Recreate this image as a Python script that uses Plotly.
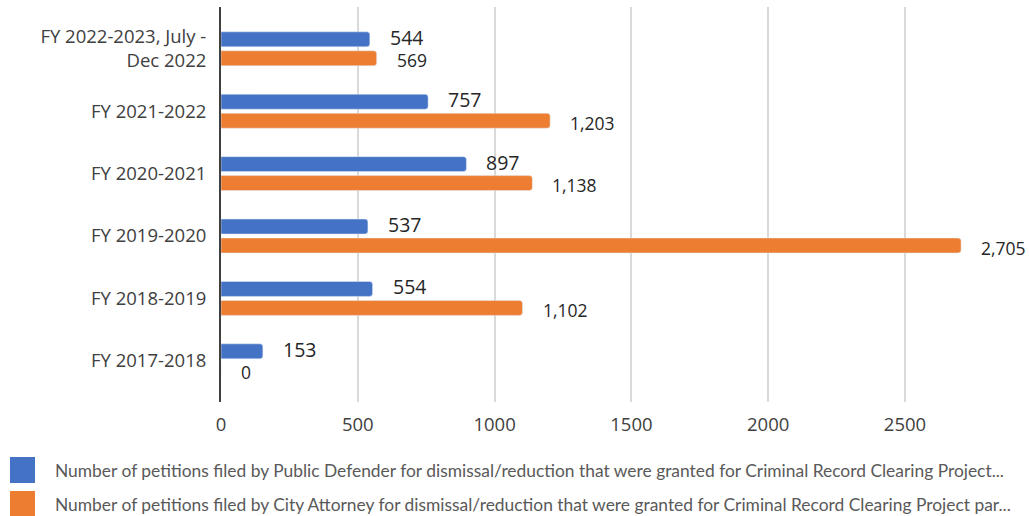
import plotly.graph_objects as go

# Fiscal-year categories, bottom to top on the y axis
categories = [
    "FY 2017-2018",
    "FY 2018-2019",
    "FY 2019-2020",
    "FY 2020-2021",
    "FY 2021-2022",
    "FY 2022-2023, July -<br>Dec 2022",
]
public_defender = [153, 554, 537, 897, 757, 544]
city_attorney = [0, 1102, 2705, 1138, 1203, 569]

series_names = [
    "Number of petitions filed by Public Defender for dismissal/reduction that were granted for Criminal Record Clearing Project...",
    "Number of petitions filed by City Attorney for dismissal/reduction that were granted for Criminal Record Clearing Project par...",
]
x_ticks = [0, 500, 1000, 1500, 2000, 2500]

BLUE = "#4472C4"
ORANGE = "#ED7D31"
TEXT = "#404040"
FONT = "Open Sans"

W, H = 1029, 516
L, R, T, B = 221, 0, 7, 114
plot_w = W - L - R
plot_h = H - T - B

fig = go.Figure()

bar_w = 0.24
fig.add_trace(go.Bar(
    y=categories, x=public_defender, orientation="h", name=series_names[0],
    marker=dict(color=BLUE, cornerradius=3), width=bar_w, offset=0.032,
    showlegend=False, hoverinfo="x",
))
fig.add_trace(go.Bar(
    y=categories, x=city_attorney, orientation="h", name=series_names[1],
    marker=dict(color=ORANGE, cornerradius=3), width=bar_w, offset=-0.272,
    showlegend=False, hoverinfo="x",
))

# Value labels next to each bar end
for cat, v in zip(categories, public_defender):
    fig.add_annotation(x=v, y=cat, text=f"{v:,}", showarrow=False,
                       xanchor="left", yanchor="middle", xshift=19, yshift=11.5,
                       height=21, borderpad=0,
                       font=dict(family=FONT, size=19.5, color="#262626"))
for cat, v in zip(categories, city_attorney):
    fig.add_annotation(x=v, y=cat, text=f"{v:,}", showarrow=False,
                       xanchor="left", yanchor="middle", xshift=19, yshift=-11,
                       height=19, borderpad=0,
                       font=dict(family=FONT, size=17.5, color="#262626"))

# Legend drawn as swatches + text below the plot
def px_x(px):
    return (px - L) / plot_w

def px_y(py):
    return (H - B - py) / plot_h

legend_rows = [(series_names[0], BLUE, 470), (series_names[1], ORANGE, 504)]
for name, color, cy in legend_rows:
    fig.add_shape(type="rect", xref="paper", yref="paper",
                  x0=px_x(10), x1=px_x(35), y0=px_y(cy - 13), y1=px_y(cy + 13),
                  fillcolor=color, line=dict(width=0), layer="above")
    fig.add_annotation(xref="paper", yref="paper", x=px_x(53), y=px_y(cy),
                       text=name, showarrow=False, xanchor="left", yanchor="middle",
                       font=dict(family="Lato", size=17.4, color="#595959"))

fig.update_layout(
    width=W, height=H,
    margin=dict(l=L, r=R, t=T, b=B),
    paper_bgcolor="white", plot_bgcolor="white",
    barmode="overlay",
    font=dict(family=FONT, size=18.5, color=TEXT),
    showlegend=False,
    xaxis=dict(
        range=[0, plot_w / (136.8 / 500)],
        tickvals=x_ticks, ticktext=[str(t) for t in x_ticks],
        showgrid=True, gridcolor="#D9D9D9", gridwidth=2,
        zeroline=False, showline=False, ticks="",
        ticklabelstandoff=9,
        tickfont=dict(family=FONT, size=18.5, color=TEXT),
    ),
    yaxis=dict(
        type="category", categoryorder="array", categoryarray=categories,
        range=[-0.66, 5.67],
        showgrid=False, zeroline=False,
        showline=True, linecolor="#404040", linewidth=2,
        ticks="", ticklabelstandoff=9,
        tickfont=dict(family=FONT, size=18.5, color=TEXT),
    ),
)

fig.write_html("out.html")
